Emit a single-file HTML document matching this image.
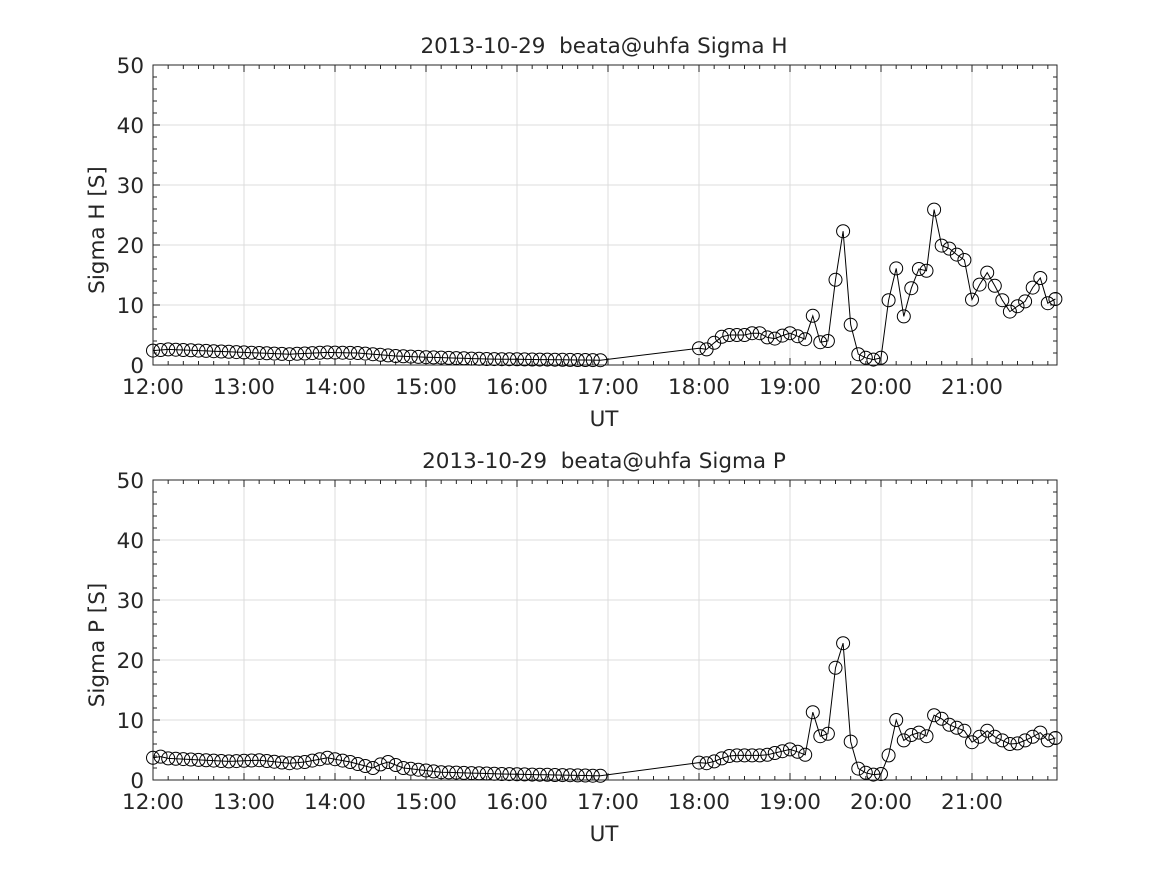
<!DOCTYPE html>
<html><head><meta charset="utf-8"><style>body{margin:0;background:#fff}svg{display:block}text{font-family:"DejaVu Sans",sans-serif;fill:#262626}</style></head>
<body>
<svg id="s" width="1167" height="875" xmlns="http://www.w3.org/2000/svg"></svg>
<script>
const s=document.getElementById('s');let h='';
const X0=153,PH=91,X1=1057;
function interp(k,n){const a=[];for(let i=0;i<n;i++){for(let j=0;j<k.length-1;j++){if(i>=k[j][0]&&i<=k[j+1][0]){const t=(i-k[j][0])/(k[j+1][0]-k[j][0]||1);a.push(k[j][1]+(k[j+1][1]-k[j][1])*t);break;}}}return a;}
const topEarly=interp([[0,2.4],[2,2.6],[18,1.8],[23,2.1],[27,2.0],[32,1.5],[36,1.3],[44,1.0],[59,0.8]],60);
const botEarly=interp([[0,3.7],[1,3.9],[2,3.6],[10,3.1],[14,3.3],[18,2.8],[20,3.0],[23,3.7],[26,3.0],[29,2.0],[30,2.6],[31,3.0],[33,2.0],[38,1.3],[46,1.0],[59,0.7]],60);
const topLate=[2.8,2.6,3.7,4.7,5.0,5.0,5.0,5.3,5.3,4.6,4.4,4.9,5.3,4.8,4.3,8.2,3.8,4.0,14.2,22.3,6.7,1.8,1.2,0.9,1.2,10.8,16.1,8.1,12.8,16.0,15.7,25.9,19.9,19.4,18.4,17.5,10.9,13.4,15.4,13.2,10.8,8.9,9.8,10.6,12.9,14.5,10.3,11.0];
const botLate=[2.9,2.8,3.1,3.6,4.0,4.1,4.1,4.1,4.1,4.2,4.5,4.8,5.1,4.7,4.2,11.3,7.3,7.7,18.7,22.8,6.4,1.9,1.2,0.9,1.0,4.1,10.0,6.6,7.5,7.9,7.3,10.8,10.2,9.2,8.7,8.2,6.3,7.2,8.2,7.2,6.6,6.0,6.1,6.6,7.2,7.9,6.6,7.0];
function panel(Y0,title,ylab,early,late){
 const Yb=Y0+300,ys=v=>Yb-v*6,xs=m=>X0+m*PH/60;
 for(let k=0;k<10;k++){const x=X0+k*PH;h+=`<line x1="${x}" y1="${Y0}" x2="${x}" y2="${Yb}" stroke="#dcdcdc"/>`;}
 for(let v=10;v<=50;v+=10)h+=`<line x1="${X0}" y1="${ys(v)}" x2="${X1}" y2="${ys(v)}" stroke="#dcdcdc"/>`;
 for(let m=0;m*PH/60+X0<=X1;m+=10){const x=xs(m),L=m%60?4:7;h+=`<line x1="${x}" y1="${Yb}" x2="${x}" y2="${Yb-L}" stroke="#262626"/><line x1="${x}" y1="${Y0}" x2="${x}" y2="${Y0+L}" stroke="#262626"/>`;}
 for(let v=0;v<=50;v+=2){const y=ys(v),L=v%10?4:7;h+=`<line x1="${X0}" y1="${y}" x2="${X0+L}" y2="${y}" stroke="#262626"/><line x1="${X1}" y1="${y}" x2="${X1-L}" y2="${y}" stroke="#262626"/>`;}
 h+=`<rect x="${X0}" y="${Y0}" width="${X1-X0}" height="300" fill="none" stroke="#262626"/>`;
 for(let k=0;k<10;k++)h+=`<text x="${X0+k*PH}" y="${Yb+29}" font-size="21.5" text-anchor="middle">${12+k}:00</text>`;
 for(let v=0;v<=50;v+=10)h+=`<text x="${X0-9}" y="${ys(v)+8}" font-size="21.5" text-anchor="end">${v}</text>`;
 h+=`<text x="604" y="${Yb+61}" font-size="21.5" text-anchor="middle">UT</text>`;
 h+=`<text x="604" y="${Y0-12}" font-size="21.5" text-anchor="middle">${title}</text>`;
 h+=`<text transform="translate(104,${Y0+165}) rotate(-90)" font-size="21.5" text-anchor="middle">${ylab}</text>`;
 const pts=[];early.forEach((v,i)=>pts.push([xs(i*5),ys(v)]));late.forEach((v,i)=>pts.push([xs(360+i*5),ys(v)]));
 h+=`<polyline fill="none" stroke="#000" stroke-width="1" points="${pts.map(p=>p[0].toFixed(1)+','+p[1].toFixed(1)).join(' ')}"/>`;
 pts.forEach(p=>h+=`<circle cx="${p[0].toFixed(1)}" cy="${p[1].toFixed(1)}" r="6.5" fill="none" stroke="#000" stroke-width="1"/>`);
}
panel(65,'2013-10-29&#160;&#160;beata@uhfa Sigma H','Sigma H [S]',topEarly,topLate);
panel(480,'2013-10-29&#160;&#160;beata@uhfa Sigma P','Sigma P [S]',botEarly,botLate);
s.innerHTML=h;
</script>
</body></html>
